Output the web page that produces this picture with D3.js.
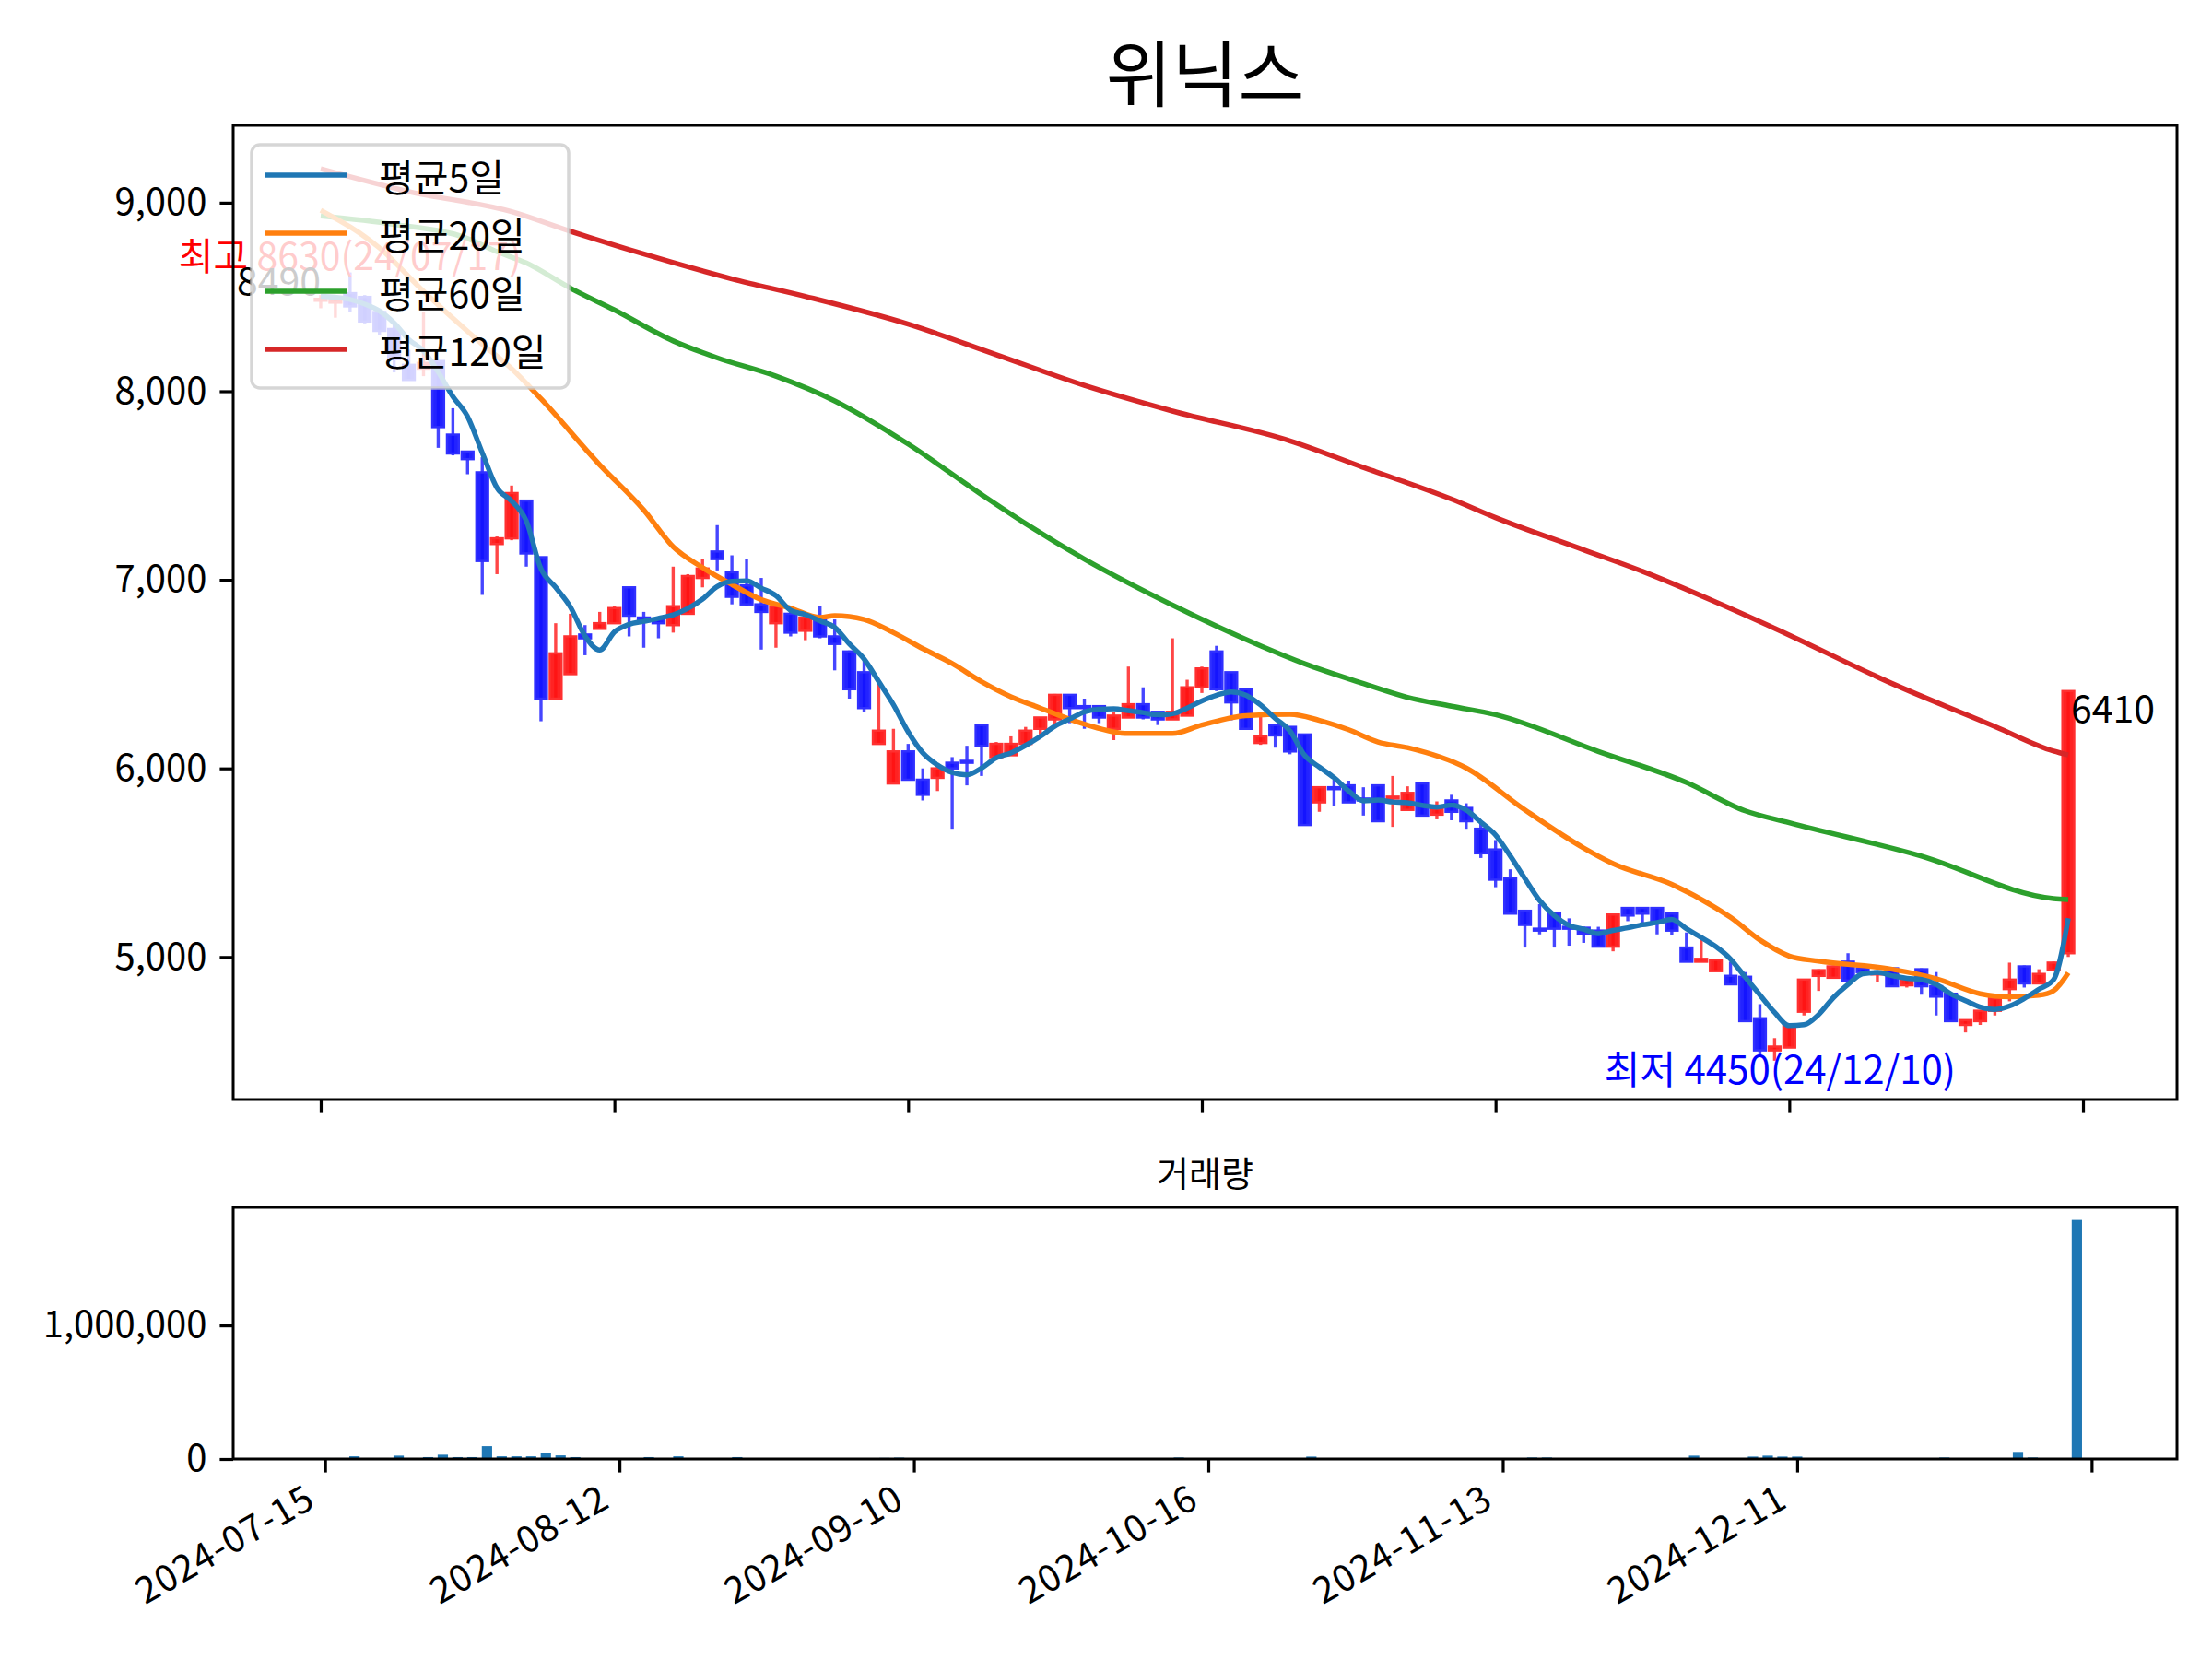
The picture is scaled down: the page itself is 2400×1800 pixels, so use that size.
<!DOCTYPE html>
<html>
<head>
<meta charset="utf-8">
<script src="https://cdn.jsdelivr.net/npm/d3@7"></script>
<style>
  html, body { margin: 0; padding: 0; background: #ffffff; }
  text { font-family: "Noto Sans CJK KR", "Noto Sans", sans-serif; }
</style>
</head>
<body>
<svg id="chart" width="2400" height="1800"></svg>
<script>
// ---------------- data ----------------
const title = "위닉스";
const volumeTitle = "거래량";
const legendLabels = ["평균5일", "평균20일", "평균60일", "평균120일"];
const tickIndex = [0, 20, 40, 60, 80, 100, 120];
const tickLabels = ["2024-07-15", "2024-08-12", "2024-09-10", "2024-10-16", "2024-11-13", "2024-12-11", ""];
const priceTicks = [5000, 6000, 7000, 8000, 9000];
const volumeTicks = [0, 1000000];

const opens = [8480,8470,8520,8500,8420,8330,8140,8120,8160,7770,
  7680,7570,7190,7220,7420,7120,6370,6500,6710,6740,
  6770,6960,6800,6790,6760,6820,7010,7150,7040,6970,
  6870,6770,6820,6730,6800,6700,6620,6510,6130,5920,
  6090,5940,5950,6030,6040,6230,6060,6070,6130,6210,
  6260,6390,6330,6330,6210,6270,6340,6300,6260,6280,
  6430,6620,6510,6420,6135,6230,6220,6180,5820,5900,
  5910,5840,5910,5840,5780,5920,5755,5830,5790,5680,
  5570,5420,5245,5150,5235,5160,5155,5140,5055,5260,
  5260,5260,5230,5050,4975,4925,4900,4895,4675,4505,
  4520,4710,4900,4890,4975,4940,4910,4940,4850,4935,
  4845,4805,4640,4660,4715,4830,4950,4860,4930,5020];
const highs = [8510,8510,8630,8510,8430,8350,8220,8420,8160,7910,
  7680,7650,7230,7500,7420,7120,6770,6820,6760,6830,
  6860,6960,6830,6790,7070,7030,7110,7290,7130,7110,
  7010,6860,6830,6800,6860,6790,6625,6570,6460,6210,
  6130,6000,6010,6060,6120,6230,6140,6170,6220,6270,
  6395,6390,6370,6330,6300,6540,6430,6300,6690,6470,
  6540,6650,6510,6420,6280,6230,6220,6180,5900,5940,
  5935,5900,5910,5960,5905,5920,5825,5860,5815,5710,
  5620,5465,5245,5280,5235,5205,5160,5160,5225,5260,
  5260,5260,5235,5130,5090,4985,4975,4920,4750,4570,
  4640,4880,4935,4955,5020,4950,4920,4945,4880,4940,
  4920,4805,4665,4715,4780,4970,4955,4935,4975,6410];
const lows = [8440,8390,8420,8360,8300,8100,8060,8080,7700,7660,
  7560,6920,7030,7210,7070,6250,6370,6500,6600,6740,
  6770,6700,6640,6690,6720,6820,6960,7050,6870,6860,
  6630,6640,6700,6680,6690,6520,6370,6300,6130,5920,
  5935,5830,5880,5680,5910,5960,6060,6070,6130,6180,
  6230,6240,6210,6240,6150,6270,6260,6230,6260,6280,
  6400,6410,6255,6210,6125,6110,6075,5700,5770,5800,
  5820,5750,5720,5690,5780,5750,5730,5725,5680,5525,
  5370,5230,5050,5120,5050,5060,5075,5055,5030,5190,
  5180,5120,5115,4975,4975,4925,4855,4655,4480,4450,
  4520,4690,4820,4887,4875,4910,4865,4845,4838,4800,
  4690,4658,4600,4640,4690,4765,4838,4860,4925,5000];
const closes = [8490,8500,8450,8370,8320,8170,8060,8150,7810,7670,
  7640,7100,7220,7460,7140,6370,6610,6700,6690,6770,
  6850,6810,6780,6770,6860,7020,7060,7110,6910,6870,
  6830,6860,6720,6800,6700,6660,6420,6320,6200,6090,
  5940,5860,6000,6000,6030,6120,6130,6130,6200,6270,
  6390,6320,6320,6270,6280,6340,6270,6260,6300,6430,
  6530,6420,6350,6210,6170,6175,6090,5700,5900,5890,
  5820,5830,5720,5850,5870,5750,5785,5770,5720,5550,
  5410,5230,5170,5140,5150,5150,5125,5055,5225,5220,
  5230,5185,5140,4975,4990,4985,4855,4660,4505,4525,
  4635,4880,4930,4950,4875,4920,4915,4845,4880,4845,
  4790,4660,4665,4715,4780,4880,4860,4910,4970,6410];
const volumes = [7000,7000,20000,7000,7000,25000,7000,14000,32000,14000,
  14000,96000,20000,20000,20000,48000,27000,14000,7000,2000,
  2000,7000,14000,7000,20000,2000,2000,7000,14000,2000,
  2000,1000,1000,1000,1000,4000,4000,1000,8000,10000,
  2000,5000,4000,2000,4000,1000,1000,1000,1000,1000,
  1000,1000,1000,1000,1000,1000,1000,1000,11000,1000,
  1000,5000,1000,1000,1000,1000,1000,18000,1000,1000,
  1000,1000,1000,1000,1000,1000,1000,1000,1000,5000,
  1000,5000,11000,11000,1000,5000,1000,5000,5000,1000,
  1000,1000,1000,25000,1000,5000,5000,18000,25000,18000,
  18000,5000,1000,5000,5000,1000,1000,1000,1000,1000,
  11000,5000,1000,1000,5000,53000,11000,1000,5000,1790000];

// 5-day average values for the first days (earlier closes are not in the chart)
const ma5Head = [8503, 8498, 8487, 8462];
// moving averages: [trading-day index, value]
const ma20Pts = [[0,8960],[4,8760],[7,8530],[11,8250],[13,8120],[15,7960],[19,7610],[22,7370],[24,7175],
  [26,7065],[28,6975],[30,6895],[32,6850],[34,6800],[35,6810],[37,6790],[39,6720],[41,6635],[43,6556],
  [45,6460],[47,6380],[49,6320],[52,6235],[55,6185],[58,6185],[60,6230],[63,6280],[66,6287],[68,6255],
  [70,6205],[72,6140],[74,6110],[78,6002],[82,5780],[86,5578],[88,5495],[92,5385],[95,5260],[96,5210],
  [98,5090],[100,5005],[102,4978],[107,4935],[110,4885],[113,4805],[115,4789],[117,4797],[118,4821],[119,4916]];
const ma60Pts = [[0,8930],[5,8885],[10,8810],[12,8740],[14,8680],[17,8547],[20,8431],[24,8267],[27,8177],
  [31,8080],[35,7949],[40,7720],[45,7452],[48,7298],[52,7110],[58,6866],[64,6650],[67,6555],[71,6450],
  [74,6377],[77,6330],[80,6285],[87,6090],[93,5925],[97,5775],[100,5712],[109,5535],[118,5310],[119,5305]];
const ma120Pts = [[0,9180],[6,9059],[13,8952],[17,8848],[24,8682],[28,8596],[33,8503],[40,8356],[46,8194],
  [52,8031],[58,7895],[66,7737],[71,7596],[77,7428],[80,7330],[86,7159],[90,7045],[95,6882],[99,6743],
  [107,6450],[114,6222],[118,6092],[119,6071]];

const highIdx = 2, lowIdx = 99, lastIdx = 119;
const highLabel = "최고 8630(24/07/17)";
const lowLabel = "최저 4450(24/12/10)";

// ---------------- drawing ----------------
const svg = d3.select("#chart");
svg.append("rect").attr("width", 2400).attr("height", 1800).attr("fill", "#ffffff");

const L = 253, R = 2362;
const mainTop = 136, mainBot = 1193;
const volTop = 1310, volBot = 1583;

const x = d3.scaleLinear().domain([-5.96, 126.4]).range([L, R]);
const y = d3.scaleLinear().domain([4244, 9410]).range([mainBot, mainTop]);
const xv = d3.scaleLinear().domain([-6.24, 125.8]).range([L, R]);
const yv = d3.scaleLinear().domain([0, 1884000]).range([volBot, volTop]);

const FONT_TICK = 40;

svg.append("clipPath").attr("id", "clipMain").append("rect")
  .attr("x", L).attr("y", mainTop).attr("width", R - L).attr("height", mainBot - mainTop);

const main = svg.append("g").attr("clip-path", "url(#clipMain)");

const idx = d3.range(closes.length);
const up = i => closes[i] >= opens[i];
const bodyCol = i => up(i) ? "#ff1010" : "#1010ff";
const wickCol = i => up(i) ? "#ff4646" : "#4646ff";
const bw = 0.8 * (x(1) - x(0));

// wicks
main.append("g").selectAll("line").data(idx).join("line")
  .attr("x1", i => x(i)).attr("x2", i => x(i))
  .attr("y1", i => y(highs[i])).attr("y2", i => y(lows[i]))
  .attr("stroke", wickCol).attr("stroke-width", 3.4);
// bodies
main.append("g").selectAll("rect").data(idx).join("rect")
  .attr("x", i => x(i) - bw / 2)
  .attr("width", bw)
  .attr("y", i => y(Math.max(opens[i], closes[i])))
  .attr("height", i => Math.max(1.5, Math.abs(y(opens[i]) - y(closes[i]))))
  .attr("fill", bodyCol).attr("fill-opacity", 0.92)
  .attr("stroke", i => up(i) ? "#ff3030" : "#3030ff").attr("stroke-width", 2.5);

// moving averages
const ma5 = idx.map(i => i < 4 ? ma5Head[i] : d3.mean(closes.slice(i - 4, i + 1)));
const lineGen = d3.line().x(d => x(d[0])).y(d => y(d[1])).curve(d3.curveMonotoneX);
const maSeries = [
  { pts: ma120Pts, color: "#d62728" },
  { pts: ma60Pts, color: "#2ca02c" },
  { pts: ma20Pts, color: "#ff7f0e" },
  { pts: idx.map(i => [i, ma5[i]]), color: "#1f77b4" }
];
maSeries.forEach(s => {
  main.append("path").attr("d", lineGen(s.pts)).attr("fill", "none")
    .attr("stroke", s.color).attr("stroke-width", 5.5).attr("stroke-linejoin", "round");
});

// annotations
svg.append("text").attr("x", x(highIdx)).attr("y", y(highs[highIdx]) - 3)
  .attr("text-anchor", "middle").attr("font-size", 41).attr("fill", "#ff0000").text(highLabel);
svg.append("text").attr("x", x(0)).attr("y", y(closes[0]) - 4)
  .attr("text-anchor", "end").attr("font-size", 41).attr("fill", "#000000").text(String(closes[0]));
svg.append("text").attr("x", x(lastIdx) + 3).attr("y", y(closes[lastIdx]) - 4)
  .attr("dominant-baseline", "hanging").attr("font-size", 41).attr("fill", "#000000").text(String(closes[lastIdx]));
svg.append("text").attr("x", x(lowIdx) + 6).attr("y", y(lows[lowIdx]) - 14)
  .attr("dominant-baseline", "hanging").attr("text-anchor", "middle").attr("font-size", 42)
  .attr("fill", "#0000ff").text(lowLabel);

// legend
const lg = svg.append("g");
lg.append("rect").attr("x", 273).attr("y", 157).attr("width", 344).attr("height", 264)
  .attr("rx", 9).attr("fill", "#ffffff").attr("fill-opacity", 0.8)
  .attr("stroke", "#cccccc").attr("stroke-opacity", 0.8).attr("stroke-width", 3.5);
const legendColors = ["#1f77b4", "#ff7f0e", "#2ca02c", "#d62728"];
legendLabels.forEach((lab, k) => {
  const ly = 190 + k * 63;
  lg.append("line").attr("x1", 287).attr("x2", 376).attr("y1", ly).attr("y2", ly)
    .attr("stroke", legendColors[k]).attr("stroke-width", 5.5);
  lg.append("text").attr("x", 411).attr("y", ly).attr("dominant-baseline", "central")
    .attr("font-size", 41).attr("fill", "#000").text(lab);
});

// main axes frame + ticks
svg.append("rect").attr("x", L).attr("y", mainTop).attr("width", R - L).attr("height", mainBot - mainTop)
  .attr("fill", "none").attr("stroke", "#000").attr("stroke-width", 3);
const yAxisMain = d3.axisLeft(y).tickValues(priceTicks).tickFormat(d3.format(",")).tickSize(14.6).tickPadding(14);
const gy = svg.append("g").attr("transform", `translate(${L},0)`).call(yAxisMain);
const xAxisMain = d3.axisBottom(x).tickValues(tickIndex).tickFormat("").tickSize(14.6);
const gx = svg.append("g").attr("transform", `translate(0,${mainBot})`).call(xAxisMain);

// volume
svg.append("clipPath").attr("id", "clipVol").append("rect")
  .attr("x", L).attr("y", volTop).attr("width", R - L).attr("height", volBot - volTop);
const vbw = 0.7 * (xv(1) - xv(0));
svg.append("g").attr("clip-path", "url(#clipVol)").selectAll("rect").data(idx).join("rect")
  .attr("x", i => xv(i) - vbw / 2).attr("width", vbw)
  .attr("y", i => yv(volumes[i])).attr("height", i => yv(0) - yv(volumes[i]))
  .attr("fill", "#1f77b4");
svg.append("rect").attr("x", L).attr("y", volTop).attr("width", R - L).attr("height", volBot - volTop)
  .attr("fill", "none").attr("stroke", "#000").attr("stroke-width", 3);
const gyv = svg.append("g").attr("transform", `translate(${L},0)`)
  .call(d3.axisLeft(yv).tickValues(volumeTicks).tickFormat(d3.format(",")).tickSize(14.6).tickPadding(14));
const gxv = svg.append("g").attr("transform", `translate(0,${volBot})`)
  .call(d3.axisBottom(xv).tickValues(tickIndex).tickFormat("").tickSize(14.6));

[gy, gx, gyv, gxv].forEach(g => {
  g.select(".domain").remove();
  g.selectAll(".tick line").attr("stroke", "#000").attr("stroke-width", 3.2);
  g.selectAll(".tick text").attr("font-size", FONT_TICK).attr("fill", "#000")
    .attr("font-family", "'Noto Sans CJK KR', 'Noto Sans', sans-serif");
});

// rotated date labels
svg.append("g").selectAll("text").data(tickIndex).join("text")
  .attr("transform", (d) => `translate(${xv(d) - 27},${volBot + 19}) rotate(-30)`)
  .attr("text-anchor", "end").attr("dominant-baseline", "hanging")
  .attr("font-size", FONT_TICK).attr("letter-spacing", 1).attr("fill", "#000")
  .text((d, k) => tickLabels[k]);

// titles
svg.append("text").attr("x", (L + R) / 2).attr("y", 76).attr("text-anchor", "middle")
  .attr("dominant-baseline", "central").attr("font-size", 78).attr("fill", "#000").text(title);
svg.append("text").attr("x", (L + R) / 2).attr("y", 1270).attr("text-anchor", "middle")
  .attr("dominant-baseline", "central").attr("font-size", 38).attr("fill", "#000").text(volumeTitle);
</script>
</body>
</html>
